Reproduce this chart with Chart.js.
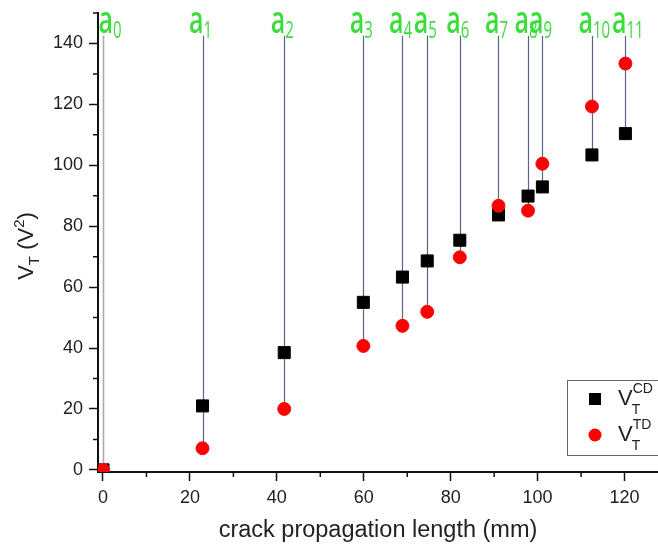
<!DOCTYPE html>
<html>
<head>
<meta charset="utf-8">
<script src="https://cdn.jsdelivr.net/npm/chart.js@4/dist/chart.umd.min.js"></script>
<style>
  html, body { margin: 0; padding: 0; background: #fff; }
</style>
</head>
<body>
<canvas id="chart" width="658" height="545"></canvas>
<script>
// crack tip positions a0..a11 and the two voltage series
const stepNames = ["0", "1", "2", "3", "4", "5", "6", "7", "8", "9", "10", "11"];
const crackLength = [0, 22.9, 41.7, 59.9, 68.9, 74.6, 82.1, 91.0, 97.8, 101.1, 112.5, 120.2];
const vtCD = [0, 21.0, 38.5, 55.0, 63.3, 68.6, 75.4, 83.7, 89.9, 92.9, 103.4, 110.4];
const vtTD = [0, 7.1, 20.0, 40.7, 47.3, 51.9, 69.8, 86.7, 85.1, 100.5, 119.3, 133.4];
const xMajor = [0, 20, 40, 60, 80, 100, 120];
const xMinor = [10, 30, 50, 70, 90, 110];
const yMajor = [0, 20, 40, 60, 80, 100, 120, 140];
const yMinor = [10, 30, 50, 70, 90, 110, 130, 150];
const stemTop = 142.5;

const axisFont = { family: "'Liberation Sans', Arial, sans-serif", size: 18 };

// vertical guide lines from the a_i labels down to the lower point
const stems = {
	id: "stems",
	beforeDatasetsDraw(chart) {
		const { ctx, scales: { x, y } } = chart;
		ctx.save();
		crackLength.forEach((v, i) => {
			const px = Math.round(x.getPixelForValue(v)) + 0.5;
			ctx.strokeStyle = i === 0 ? "#a9abb5" : "#5d6587";
			ctx.lineWidth = i === 0 ? 1.6 : 1.2;
			ctx.beginPath();
			ctx.moveTo(px, y.getPixelForValue(stemTop));
			ctx.lineTo(px, y.getPixelForValue(Math.min(vtCD[i], vtTD[i])));
			ctx.stroke();
		});
		ctx.restore();
	},
};

const decorations = {
	id: "decorations",
	afterDraw(chart) {
		const { ctx, chartArea, scales: { x, y } } = chart;
		ctx.save();

		// minor ticks (origin style, outside)
		ctx.strokeStyle = "#111";
		ctx.lineWidth = 1.5;
		ctx.beginPath();
		xMinor.forEach(v => {
			const px = x.getPixelForValue(v);
			ctx.moveTo(px, chartArea.bottom);
			ctx.lineTo(px, chartArea.bottom + 5);
		});
		yMinor.forEach(v => {
			const py = y.getPixelForValue(v);
			ctx.moveTo(chartArea.left, py);
			ctx.lineTo(chartArea.left - 5, py);
		});
		ctx.stroke();

		// a_i labels in green
		ctx.fillStyle = "#3ddc3d";
		crackLength.forEach((v, i) => {
			const px = Math.max(x.getPixelForValue(v) + 1, chartArea.left + 15);
			ctx.save();
			ctx.translate(px, 33);
			ctx.scale(1, 1.55);
			ctx.font = "600 25px 'Open Sans'";
			ctx.textAlign = "right";
			ctx.fillText("a", 0, 0);
			ctx.restore();
			ctx.save();
			ctx.translate(px, 38);
			ctx.scale(1, 1.55);
			ctx.font = "15px 'Open Sans'";
			ctx.textAlign = "left";
			ctx.fillText(stepNames[i], 0, 0);
			ctx.restore();
		});

		// y axis title: V_T (V^2)
		ctx.fillStyle = "#222";
		ctx.save();
		ctx.translate(33, 246);
		ctx.rotate(-Math.PI / 2);
		const big = "22px 'Liberation Sans', Arial";
		const small = "15px 'Liberation Sans', Arial";
		const parts = [
			["V", big, 0], ["T", small, 6], [" (V", big, 0], ["2", small, -9], [")", big, 0],
		];
		let total = 0;
		parts.forEach(p => { ctx.font = p[1]; total += ctx.measureText(p[0]).width; });
		let cx = -total / 2;
		parts.forEach(p => {
			ctx.font = p[1];
			ctx.fillText(p[0], cx, p[2]);
			cx += ctx.measureText(p[0]).width;
		});
		ctx.restore();

		// legend box
		ctx.strokeStyle = "#666";
		ctx.lineWidth = 1;
		ctx.strokeRect(567.5, 380.5, 120, 75);
		ctx.fillStyle = "#000";
		ctx.fillRect(589, 393, 12, 12);
		ctx.fillStyle = "#ff0000";
		ctx.beginPath();
		ctx.arc(595, 435, 6.5, 0, Math.PI * 2);
		ctx.fill();
		ctx.fillStyle = "#222";
		[["CD", 405], ["TD", 441]].forEach(([sup, base]) => {
			ctx.font = "22px 'Liberation Sans', Arial";
			ctx.fillText("V", 618, base);
			const w = ctx.measureText("V").width;
			ctx.font = "14px 'Liberation Sans', Arial";
			ctx.fillText(sup, 618 + w, base - 12);
			ctx.fillText("T", 618 + w - 1, base + 9);
		});

		ctx.restore();
	},
};

const pts = ys => crackLength.map((x, i) => ({ x, y: ys[i] }));

new Chart(document.getElementById("chart"), {
	type: "scatter",
	data: {
		datasets: [
			{
				label: "VT CD",
				data: pts(vtCD),
				pointStyle: "rect",
				pointRadius: 8.5,
				backgroundColor: "#000",
				borderColor: "#000",
				borderWidth: 1,
				order: 2,
			},
			{
				label: "VT TD",
				data: pts(vtTD),
				pointStyle: "circle",
				pointRadius: 6.5,
				backgroundColor: "#ff0000",
				borderColor: "#ee1010",
				borderWidth: 1,
				order: 1,
			},
		],
	},
	options: {
		responsive: false,
		animation: false,
		layout: { autoPadding: false, padding: { top: 13, right: 0, left: 0, bottom: 0 } },
		plugins: {
			legend: { display: false },
			tooltip: { enabled: false },
		},
		scales: {
			x: {
				type: "linear",
				min: -1.15,
				max: 127.7,
				afterBuildTicks: s => { s.ticks = xMajor.map(value => ({ value })); },
				afterFit: s => { s.height = 73; s.paddingLeft = 0; s.paddingRight = 0; },
				grid: { drawOnChartArea: false, tickLength: 9, tickColor: "#111", tickWidth: 1.5 },
				border: { color: "#111", width: 2 },
				ticks: { color: "#222", font: axisFont, padding: 6, maxRotation: 0 },
				title: {
					display: true,
					text: "crack propagation length (mm)",
					color: "#222",
					font: { family: "'Liberation Sans', Arial, sans-serif", size: 23.5 },
					padding: { top: 0, bottom: 0 },
				},
			},
			y: {
				type: "linear",
				min: -0.7,
				max: 150,
				afterBuildTicks: s => { s.ticks = yMajor.map(value => ({ value })); },
				afterFit: s => { s.width = 98; s.paddingTop = 0; s.paddingBottom = 0; },
				grid: { drawOnChartArea: false, tickLength: 9, tickColor: "#111", tickWidth: 1.5 },
				border: { color: "#111", width: 2 },
				ticks: { color: "#222", font: axisFont, padding: 6 },
			},
		},
	},
	plugins: [stems, decorations],
});
</script>
</body>
</html>
